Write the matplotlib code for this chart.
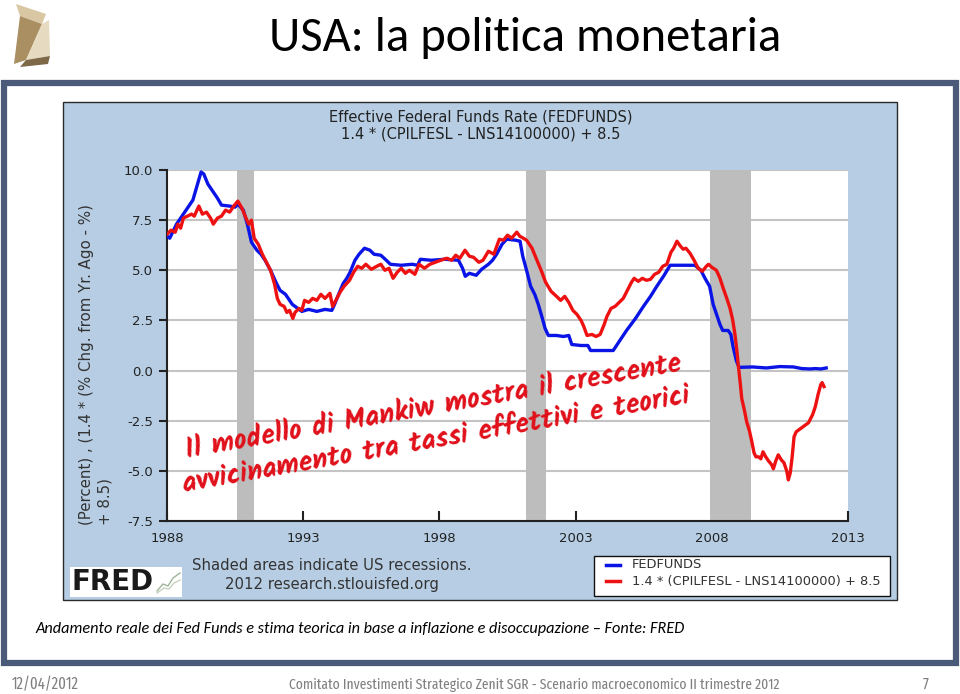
import matplotlib
matplotlib.use("Agg")
import matplotlib.pyplot as plt
from matplotlib.patches import Rectangle, Polygon

# ---- data ----
fed_years = [1988.0, 1988.1, 1988.35, 1988.55, 1988.75, 1988.95, 1989.1, 1989.25, 1989.35, 1989.5,
             1989.65, 1989.85, 1990.0, 1990.3, 1990.5, 1990.6, 1990.8, 1990.95, 1991.1, 1991.3,
             1991.45, 1991.6, 1991.8, 1992.0, 1992.15, 1992.35, 1992.6, 1992.8, 1992.95, 1993.2,
             1993.5, 1993.8, 1994.05, 1994.15, 1994.3, 1994.47, 1994.6, 1994.72, 1994.9, 1995.05,
             1995.25, 1995.45, 1995.6, 1995.85, 1996.05, 1996.2, 1996.6, 1997.0, 1997.2, 1997.3,
             1997.7, 1998.2, 1998.7, 1998.85, 1998.95, 1999.1, 1999.35, 1999.55, 1999.8, 1999.95,
             2000.1, 2000.3, 2000.47, 2000.8, 2000.96, 2001.06, 2001.2, 2001.35, 2001.5, 2001.63,
             2001.78, 2001.88, 2002.0, 2002.3, 2002.55, 2002.75, 2002.86, 2003.2, 2003.45, 2003.55,
             2004.0, 2004.38, 2004.6, 2004.87, 2005.2, 2005.49, 2005.75, 2005.98, 2006.25, 2006.47,
             2007.0, 2007.38, 2007.6, 2007.75, 2007.92, 2008.05, 2008.15, 2008.3, 2008.4, 2008.6,
             2008.7, 2008.78, 2008.9, 2009.0, 2009.5, 2010.0, 2010.5, 2011.0, 2011.3, 2011.6,
             2011.8, 2012.0, 2012.2]
fed_vals = [6.7, 6.6, 7.3, 7.7, 8.1, 8.5, 9.2, 9.9, 9.8, 9.3,
            9.0, 8.6, 8.25, 8.2, 8.15, 8.3, 8.0, 7.3, 6.4, 6.0,
            5.8, 5.5, 5.0, 4.4, 4.0, 3.8, 3.3, 3.1, 2.95, 3.05,
            2.95, 3.05, 3.0, 3.3, 3.8, 4.35, 4.6, 4.9, 5.5, 5.8,
            6.1, 6.0, 5.8, 5.75, 5.5, 5.3, 5.25, 5.3, 5.25, 5.55,
            5.5, 5.55, 5.5, 5.1, 4.7, 4.85, 4.75, 5.05, 5.3, 5.5,
            5.8, 6.3, 6.55, 6.5, 6.45, 5.7, 5.0, 4.2, 3.8, 3.3,
            2.6, 2.1, 1.75, 1.75, 1.7, 1.75, 1.3, 1.25, 1.25, 1.0,
            1.0, 1.0, 1.45, 2.0, 2.6, 3.2, 3.7, 4.2, 4.75, 5.25,
            5.25, 5.25, 5.0, 4.6, 4.2, 3.3, 2.9, 2.3, 2.0, 2.0,
            1.8, 1.2, 0.5, 0.16, 0.18, 0.13, 0.2, 0.18, 0.1, 0.08,
            0.1, 0.08, 0.13]

taylor_years = [1988.0, 1988.15, 1988.3, 1988.4, 1988.5, 1988.6, 1988.75, 1988.9, 1989.0, 1989.1,
                1989.17, 1989.3, 1989.45, 1989.6, 1989.7, 1989.85, 1990.0, 1990.15, 1990.3, 1990.45,
                1990.6, 1990.75, 1990.9, 1991.0, 1991.1, 1991.2, 1991.35, 1991.5, 1991.65, 1991.8,
                1991.95, 1992.05, 1992.15, 1992.3, 1992.4, 1992.5, 1992.62, 1992.7, 1992.85, 1992.95,
                1993.05, 1993.2, 1993.35, 1993.5, 1993.65, 1993.8, 1993.98, 1994.08, 1994.2, 1994.35,
                1994.5, 1994.7, 1994.85, 1995.0, 1995.15, 1995.3, 1995.5, 1995.7, 1995.85, 1996.0,
                1996.15, 1996.3, 1996.45, 1996.6, 1996.75, 1996.9, 1997.1, 1997.25, 1997.45, 1997.65,
                1997.85, 1998.05, 1998.27, 1998.45, 1998.6, 1998.75, 1998.94, 1999.1, 1999.25, 1999.45,
                1999.6, 1999.8, 2000.0, 2000.2, 2000.35, 2000.5, 2000.65, 2000.84, 2000.95, 2001.08,
                2001.2, 2001.4, 2001.55, 2001.75, 2001.9, 2002.1, 2002.3, 2002.45, 2002.6, 2002.75,
                2002.9, 2003.05, 2003.2, 2003.3, 2003.42, 2003.6, 2003.75, 2003.9, 2004.05, 2004.15,
                2004.3, 2004.45, 2004.6, 2004.75, 2004.9, 2005.05, 2005.15, 2005.3, 2005.45, 2005.6,
                2005.75, 2005.9, 2006.05, 2006.2, 2006.35, 2006.5, 2006.6, 2006.72, 2006.85, 2006.95,
                2007.05, 2007.2, 2007.35, 2007.5, 2007.65, 2007.8, 2007.88, 2008.0, 2008.17, 2008.3,
                2008.42, 2008.55, 2008.67, 2008.77, 2008.85, 2008.92, 2008.97, 2009.05, 2009.1, 2009.2,
                2009.28, 2009.38, 2009.47, 2009.55, 2009.62, 2009.72, 2009.8, 2009.88, 2009.98, 2010.08,
                2010.2, 2010.26, 2010.35, 2010.44, 2010.55, 2010.65, 2010.75, 2010.81, 2010.88, 2010.95,
                2011.02, 2011.1, 2011.25, 2011.4, 2011.55, 2011.7, 2011.8, 2011.9, 2012.0, 2012.05,
                2012.12]
taylor_vals = [6.8, 7.0, 6.9, 7.3, 7.1, 7.6, 7.7, 7.8, 7.7, 8.0,
               8.2, 7.8, 7.9, 7.6, 7.3, 7.6, 7.7, 8.0, 7.9, 8.2,
               8.45, 8.1, 7.6, 7.3, 7.5, 6.6, 6.3, 5.8, 5.4, 5.0,
               4.3, 3.6, 3.3, 3.2, 2.9, 3.0, 2.6, 2.9, 3.1, 3.0,
               3.5, 3.4, 3.6, 3.5, 3.8, 3.6, 3.85, 3.2, 3.5, 3.9,
               4.2, 4.5, 4.9, 5.2, 5.1, 5.3, 5.05, 5.2, 5.3, 5.0,
               5.1, 4.6, 4.9, 5.1, 4.85, 5.0, 4.8, 5.3, 5.1, 5.3,
               5.4, 5.5, 5.6, 5.5, 5.75, 5.6, 6.0, 5.7, 5.65, 5.4,
               5.5, 5.95, 5.8, 6.55, 6.5, 6.75, 6.6, 6.9, 6.7, 6.6,
               6.5, 6.1, 5.6, 4.95, 4.4, 3.95, 3.7, 3.5, 3.7, 3.4,
               3.0, 2.8, 2.5, 2.2, 1.75, 1.8, 1.7, 1.8, 2.3, 2.7,
               3.1, 3.2, 3.4, 3.6, 4.0, 4.4, 4.6, 4.45, 4.6, 4.5,
               4.55, 4.8, 4.9, 5.2, 5.3, 5.9, 6.1, 6.45, 6.2, 6.05,
               6.1, 5.85, 5.5, 5.1, 4.95, 5.2, 5.3, 5.15, 5.0, 4.6,
               4.1, 3.6, 3.1, 2.5, 1.8, 1.0, 0.3, -0.7, -1.4, -2.0,
               -2.55, -3.0, -3.55, -4.1, -4.3, -4.3, -4.4, -4.05, -4.3, -4.5,
               -4.7, -4.9, -4.5, -4.2, -4.45, -4.6, -5.0, -5.45, -5.1, -4.3,
               -3.3, -3.05, -2.9, -2.75, -2.6, -2.2, -1.8, -1.2, -0.7, -0.6,
               -0.8]

recessions = [(1990.58, 1991.2), (2001.18, 2001.91), (2007.93, 2009.45)]
y_ticks = [-7.5, -5.0, -2.5, 0.0, 2.5, 5.0, 7.5, 10.0]
x_ticks = [1988, 1993, 1998, 2003, 2008, 2013]

slide_font = ['Carlito', 'DejaVu Sans']
foot_font = ['Fira Sans Extra Condensed', 'Carlito', 'DejaVu Sans']
hand_font = ['Kalam', 'DejaVu Sans']

fig = plt.figure(figsize=(9.6, 6.94), dpi=100)

def px(x, y):
    return x / 960, 1 - y / 694

# background layer in pixel coords
bg = fig.add_axes([0, 0, 1, 1])
bg.set_xlim(0, 960)
bg.set_ylim(694, 0)
bg.axis('off')

# logo (folded paper)
bg.add_patch(Polygon([(16, 4), (46, 14), (42, 24), (20, 16)], fc='#d9c7a3', ec='none'))
bg.add_patch(Polygon([(20, 16), (42, 24), (26, 60), (14, 64)], fc='#a98f62', ec='none'))
bg.add_patch(Polygon([(42, 24), (49, 20), (50, 56), (26, 60)], fc='#e6dac0', ec='none'))
bg.add_patch(Polygon([(26, 60), (50, 56), (48, 64), (20, 67)], fc='#7d6848', ec='none'))

bg.text(525, 38, 'USA: la politica monetaria', ha='center', va='center',
        fontsize=35, family=slide_font, color='black')

# slide frame
bg.add_patch(Rectangle((4, 83), 952, 580, fc='white', ec='#4b5a78', lw=4.5))
# FRED panel
bg.add_patch(Rectangle((63, 102), 834, 498, fc='#b6cde3', ec='#2a2a2a', lw=1))

bg.text(481, 117, 'Effective Federal Funds Rate (FEDFUNDS)', ha='center', va='center',
        fontsize=10.5, color='#222222')
bg.text(481, 134, '1.4 * (CPILFESL - LNS14100000) + 8.5', ha='center', va='center',
        fontsize=10.5, color='#222222')

bg.text(87, 525, '(Percent) , (1.4 * (% Chg. from Yr. Ago - %)', rotation=90,
        ha='center', va='bottom', fontsize=10.8, color='#333333')
bg.text(105, 525, '+ 8.5)', rotation=90, ha='center', va='bottom', fontsize=10.8, color='#333333')

bg.text(332, 565, 'Shaded areas indicate US recessions.', ha='center', va='center',
        fontsize=10.7, color='#333333')
bg.text(332, 584, '2012 research.stlouisfed.org', ha='center', va='center',
        fontsize=10.7, color='#333333')

# FRED logo
bg.add_patch(Rectangle((70, 567), 112, 30, fc='white', ec='none'))
bg.text(72, 582, 'FRED', ha='left', va='center', fontsize=20, weight='heavy', color='#1a1a1a')
bg.plot([157, 163, 168, 173, 180], [591, 584, 586, 578, 573], color='#9fb59a', lw=1)
bg.plot([157, 164, 169, 174, 180], [593, 588, 589, 583, 580], color='#c5d3bf', lw=1)

# legend
bg.add_patch(Rectangle((594, 556), 296, 40, fc='white', ec='#111111', lw=1))
bg.plot([606, 620], [565, 565], color='#0a14e6', lw=2.5)
bg.plot([606, 620], [581, 581], color='#ee1111', lw=2.5)
bg.text(632, 565, 'FEDFUNDS', ha='left', va='center', fontsize=9.4, color='#333333')
bg.text(632, 581, '1.4 * (CPILFESL - LNS14100000) + 8.5', ha='left', va='center',
        fontsize=9.4, color='#333333')

bg.text(35, 629, 'Andamento reale dei Fed Funds e stima teorica in base a inflazione e '
        'disoccupazione \u2013 Fonte: FRED', ha='left', va='center', fontsize=11.7,
        style='italic', family=slide_font, color='black')

bg.text(12, 685, '12/04/2012', ha='left', va='center', fontsize=11.5,
        family=foot_font, color='#808080')
bg.text(534, 685, 'Comitato Investimenti Strategico Zenit SGR - Scenario macroeconomico II trimestre 2012',
        ha='center', va='center', fontsize=10.6, family=foot_font, color='#808080')
bg.text(926, 685, '7', ha='center', va='center', fontsize=11.5,
        family=foot_font, color='#808080')

# main chart
x0, y0 = px(167, 521)
x1, y1 = px(848, 170)
ax = fig.add_axes([x0, y0, x1 - x0, y1 - y0])
ax.set_facecolor('white')
for a, b in recessions:
    ax.axvspan(a, b, color='#bdbdbd', lw=0, zorder=1)
ax.set_yticks(y_ticks)
ax.set_yticklabels(['%.1f' % v for v in y_ticks])
ax.set_xticks(x_ticks)
ax.grid(axis='y', color='#c4c4c4', lw=1.5, zorder=0)
ax.set_axisbelow(True)
ax.plot(fed_years, fed_vals, color='#0a14e6', lw=2.4, zorder=3)
ax.plot(taylor_years, taylor_vals, color='#ee1111', lw=2.4, zorder=4)
ax.set_xlim(1988, 2013)
ax.set_ylim(-7.5, 10)
for s in ['top', 'right']:
    ax.spines[s].set_visible(False)
for s in ['left', 'bottom']:
    ax.spines[s].set_color('#222222')
    ax.spines[s].set_linewidth(1.5)
ax.tick_params(axis='y', direction='out', length=6, width=1.5, color='#222222',
               labelsize=9.5, labelcolor='#222222', pad=4)
ax.tick_params(axis='x', direction='in', length=7, width=1.5, color='#222222',
               labelsize=9.5, labelcolor='#222222', pad=8)

# handwritten note
fig.text(*px(433, 406), 'Il modello di Mankiw mostra il crescente', rotation=10,
         rotation_mode='anchor', ha='center', va='center', fontsize=20,
         family=hand_font, weight='bold', color='#e0101a')
fig.text(*px(436, 439), 'avvicinamento tra tassi effettivi e teorici', rotation=10,
         rotation_mode='anchor', ha='center', va='center', fontsize=20,
         family=hand_font, weight='bold', color='#e0101a')

fig.savefig('out.png', dpi=100)
